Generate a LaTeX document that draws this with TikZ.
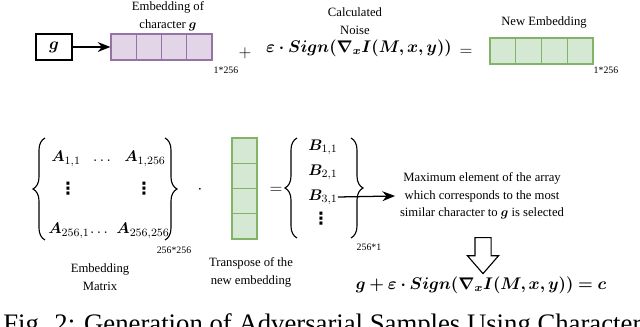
\documentclass[tikz,border=0pt]{standalone}
\usepackage{fontspec}
\setmainfont{Liberation Serif}
\newfontfamily\symfont{DejaVu Sans}
\usepackage{amsmath,bm}
\usetikzlibrary{arrows.meta,shapes.arrows,decorations.pathreplacing}
\definecolor{purplefill}{HTML}{E1D5E7}
\definecolor{purpleline}{HTML}{9673A6}
\definecolor{greenfill}{HTML}{D5E8D4}
\definecolor{greenline}{HTML}{82B366}
\begin{document}
\begin{tikzpicture}[x=0.025cm, y=-0.025cm,
    charbox/.style={draw, line width=0.9pt, minimum width=0.9cm, minimum height=0.65cm,
                    inner sep=0pt, font=\fontsize{13}{15}\selectfont},
    cellP/.style={draw=purpleline, fill=purplefill, line width=0.8pt, minimum width=0.63cm,
                  minimum height=0.65cm, inner sep=0pt},
    cellG/.style={draw=greenline, fill=greenfill, line width=0.9pt, minimum width=0.64cm,
                  minimum height=0.65cm, inner sep=0pt},
    lbl/.style={align=center, font=\fontsize{9}{12.8}\selectfont},
    dim/.style={font=\fontsize{7}{8}\selectfont, inner sep=0pt},
    ent/.style={font=\fontsize{12}{14}\selectfont, inner sep=0pt},
    mat/.style={font=\fontsize{11}{13}\selectfont, inner sep=0pt},
    vdt/.style={font=\symfont\bfseries\fontsize{12}{14}\selectfont, inner sep=0pt},
    arr/.style={-{Stealth[length=9pt,width=7pt]}, line width=0.9pt},
    brc/.style={decorate, decoration={brace, amplitude=0.3cm}, line width=0.8pt},
    hollow/.style={single arrow, draw, line width=0.8pt, shape border rotate=270,
                   minimum height=0.9cm, inner sep=0pt, inner xsep=0.1875cm,
                   single arrow head extend=0.1875cm, single arrow tip angle=82}
]
\useasboundingbox (0,0) rectangle (640,327);

% embedding of g plus noise
\node[charbox] (gin) at (54,47) {$\bm{g}$};
\foreach \i/\x in {1/123.6, 2/148.9, 3/174.1, 4/199.4}
  \node[cellP] (p\i) at (\x,47) {};
\draw[arr] (gin) -- (p1);
\node[lbl] (embl) at (168,16) {Embedding of\\character $\bm{g}$};
\node[dim] (dimP) at (226,70) {1*256};

\node[ent] (plus) at (245,53) {$+$};
\node[ent] (noise) at (359,48) {$\bm{\varepsilon\cdot Sign(\nabla_x I(M,x,y))}$};
\node[lbl] (noisel) at (355,21) {Calculated\\Noise};
\node[ent] (eqA) at (466,52) {$=$};

\foreach \i/\x in {1/502.9, 2/528.6, 3/554.4, 4/580.1}
  \node[cellG] (n\i) at (\x,51) {};
\node[lbl] (newl) at (544,22) {New Embedding};
\node[dim] (dimN) at (606,70) {1*256};

% embedding matrix
\node[mat, anchor=base] (a11) at (66,162) {$\bm{A}_{1,1}$};
\node[mat, anchor=base] (adt) at (102,162) {$\ldots$};
\node[mat, anchor=base] (a1n) at (145,162) {$\bm{A}_{1,256}$};
\node[vdt] (av1) at (68,189) {⋮};
\node[vdt] (av2) at (144,189) {⋮};
\node[mat, anchor=base] (an1) at (69,234) {$\bm{A}_{256,1}$};
\node[mat, anchor=base] (andt) at (99,234) {$\ldots$};
\node[mat, anchor=base] (ann) at (143,234) {$\bm{A}_{256,256}$};
\draw[brc] (45,240) -- (45,138);
\draw[brc] (165,138) -- (165,240);
\node[dim] (dimA) at (174,250) {256*256};
\node[lbl] (matl) at (100,277) {Embedding\\Matrix};

\node[ent] (dot) at (200,190) {$\cdot$};

% transposed new embedding
\foreach \i/\y in {1/150.6, 2/175.9, 3/201.1, 4/226.4}
  \node[cellG, minimum width=0.625cm, minimum height=0.63cm] (t\i) at (244.5,\y) {};
\node[lbl] (trl) at (251,272) {Transpose of the\\new embedding};

\node[ent] (eqB) at (276,190) {$=$};

% result vector
\node[mat] (b11) at (323,147) {$\bm{B}_{1,1}$};
\node[mat] (b21) at (323,172) {$\bm{B}_{2,1}$};
\node[mat] (b31) at (323,197) {$\bm{B}_{3,1}$};
\node[vdt] (bv) at (321,219) {⋮};
\draw[brc] (297,238) -- (297,138);
\draw[brc] (351,138) -- (351,238);
\node[dim] (dimB) at (369,247) {256*1};

\node[align=center, font=\fontsize{9}{12.4}\selectfont] (maxt) at (482,196)
  {Maximum element of the array\\which corresponds to the most\\similar character to $\bm{g}$ is selected};
\draw[arr] (b31.east) -- (maxt.west);

\node[hollow] (down) at (483,251) {};
\node[ent] (res) at (481,285) {$\bm{g + \varepsilon\cdot Sign(\nabla_x I(M,x,y)) = c}$};

\node[anchor=base west, inner sep=0pt, font=\fontsize{19}{22}\selectfont] (cap) at (3,333)
  {Fig. 2: Generation of Adversarial Samples Using Character};
\end{tikzpicture}
\end{document}
